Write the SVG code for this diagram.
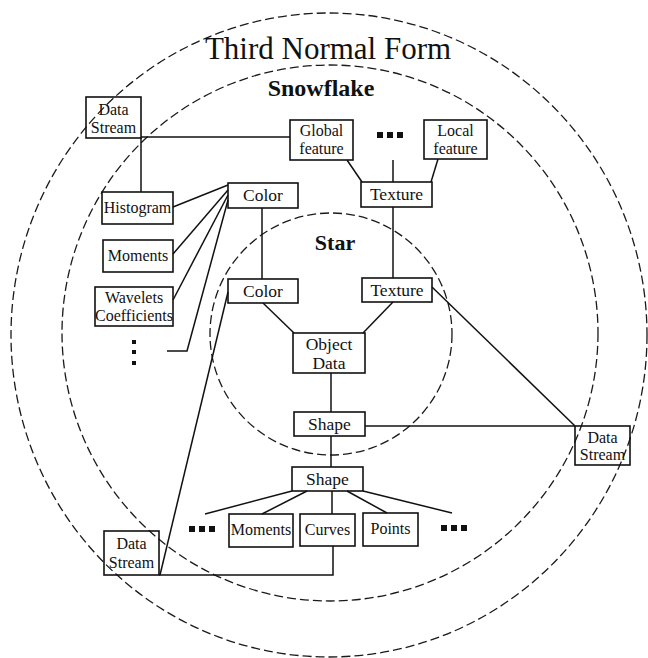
<svg xmlns="http://www.w3.org/2000/svg" width="648" height="658" viewBox="0 0 648 658">
<style>
.ring{fill:none;stroke:#1a1a1a;stroke-width:1.3;stroke-dasharray:9 4}
.box{fill:none;stroke:#111;stroke-width:1.6}
.lbl{font-family:"Liberation Serif","Times New Roman",serif;fill:#111;text-anchor:middle;font-size:16px}
.big{font-size:17.5px}
.title{font-family:"Liberation Serif","Times New Roman",serif;fill:#111;text-anchor:middle}
.ln{fill:none;stroke:#111;stroke-width:1.5}
.dot{fill:#111}
</style>
<rect width="648" height="658" fill="#fff"/>
<g id="rings">
<ellipse class="ring" cx="329" cy="335" rx="318" ry="322"/>
<circle class="ring" cx="330" cy="333" r="268"/>
<circle class="ring" cx="331" cy="334" r="121"/>
</g>
<g id="titles">
<text class="title" x="328" y="59" font-size="31">Third Normal Form</text>
<text class="title" x="321" y="96" font-size="24" font-weight="bold">Snowflake</text>
<text class="title" x="335" y="250" font-size="22" font-weight="bold">Star</text>
</g>
<g id="connectors">
<line class="ln" x1="141" y1="137" x2="290" y2="137"/>
<line class="ln" x1="141" y1="138" x2="141" y2="192"/>
<line class="ln" x1="347" y1="160" x2="362" y2="182"/>
<line class="ln" x1="393" y1="160" x2="393" y2="182"/>
<line class="ln" x1="438" y1="159" x2="431" y2="182"/>
<line class="ln" x1="173" y1="207" x2="228" y2="185"/>
<line class="ln" x1="173" y1="254" x2="228" y2="190"/>
<line class="ln" x1="173" y1="300" x2="228" y2="195"/>
<polyline class="ln" points="167,351 187,351 228,200"/>
<line class="ln" x1="262" y1="208" x2="262" y2="279"/>
<line class="ln" x1="393" y1="207" x2="393" y2="278"/>
<line class="ln" x1="263" y1="303" x2="294" y2="333"/>
<line class="ln" x1="393" y1="302" x2="363" y2="333"/>
<line class="ln" x1="331" y1="373" x2="331" y2="412"/>
<line class="ln" x1="331" y1="436" x2="331" y2="467"/>
<line class="ln" x1="365" y1="426" x2="575" y2="426"/>
<line class="ln" x1="432" y1="287" x2="575" y2="426"/>
<line class="ln" x1="292" y1="491" x2="205" y2="514"/>
<line class="ln" x1="307" y1="491" x2="262" y2="514"/>
<line class="ln" x1="332" y1="491" x2="332" y2="514"/>
<line class="ln" x1="347" y1="491" x2="387" y2="513"/>
<line class="ln" x1="363" y1="491" x2="452" y2="513"/>
<polyline class="ln" points="333,546 333,575 159,575"/>
<line class="ln" x1="228" y1="292" x2="160" y2="575"/>
</g>
<g id="ds_tl"><rect class="box" x="86" y="97" width="55" height="41"/><text class="lbl" font-size="15" x="113.5" y="115">Data</text><text class="lbl" font-size="15" x="113.5" y="133">Stream</text></g>
<g id="global"><rect class="box" x="290" y="120" width="63" height="40"/><text class="lbl" font-size="15.5" x="321.5" y="136">Global</text><text class="lbl" font-size="15.5" x="321.5" y="154">feature</text></g>
<g id="dots_top"><rect class="dot" x="377" y="132" width="6" height="6"/><rect class="dot" x="387" y="132" width="6" height="6"/><rect class="dot" x="397" y="132" width="6" height="6"/></g>
<g id="local"><rect class="box" x="424" y="120" width="63" height="39"/><text class="lbl" font-size="15.5" x="455.5" y="136">Local</text><text class="lbl" font-size="15.5" x="455.5" y="154">feature</text></g>
<g id="texture_sf"><rect class="box" x="361" y="182" width="71" height="25"/><text class="lbl big" x="396.5" y="200">Texture</text></g>
<g id="color_sf"><rect class="box" x="228" y="183" width="70" height="25"/><text class="lbl big" x="263" y="201">Color</text></g>
<g id="histogram"><rect class="box" x="102" y="192" width="71" height="32"/><text class="lbl" x="137.5" y="213">Histogram</text></g>
<g id="moments_sf"><rect class="box" x="103" y="240" width="70" height="32"/><text class="lbl" x="138" y="261">Moments</text></g>
<g id="wavelets"><rect class="box" x="95" y="287" width="78" height="39"/><text class="lbl" font-size="15.5" x="134" y="303">Wavelets</text><text class="lbl" font-size="15.5" x="134" y="321">Coefficients</text></g>
<g id="dots_left"><rect class="dot" x="132" y="340" width="4" height="4"/><rect class="dot" x="132" y="350" width="4" height="4"/><rect class="dot" x="132" y="361" width="4" height="4"/></g>
<g id="color_star"><rect class="box" x="228" y="279" width="70" height="24"/><text class="lbl big" x="263" y="297">Color</text></g>
<g id="texture_star"><rect class="box" x="362" y="278" width="70" height="24"/><text class="lbl big" x="397" y="296">Texture</text></g>
<g id="object_data"><rect class="box" x="293" y="333" width="72" height="40"/><text class="lbl big" x="329" y="350">Object</text><text class="lbl big" x="329" y="369">Data</text></g>
<g id="shape_star"><rect class="box" x="294" y="412" width="71" height="24"/><text class="lbl big" x="329.5" y="430">Shape</text></g>
<g id="ds_right"><rect class="box" x="575" y="426" width="55" height="39"/><text class="lbl" font-size="15" x="602.5" y="443">Data</text><text class="lbl" font-size="15" x="602.5" y="460">Stream</text></g>
<g id="shape_low"><rect class="box" x="292" y="467" width="71" height="24"/><text class="lbl big" x="327.5" y="485">Shape</text></g>
<g id="dots_l2"><rect class="dot" x="189" y="526" width="6" height="6"/><rect class="dot" x="199" y="526" width="6" height="6"/><rect class="dot" x="209" y="526" width="6" height="6"/></g>
<g id="moments_low"><rect class="box" x="229" y="514" width="64" height="33"/><text class="lbl" x="261" y="535">Moments</text></g>
<g id="curves"><rect class="box" x="300" y="514" width="55" height="32"/><text class="lbl" x="327.5" y="535">Curves</text></g>
<g id="points"><rect class="box" x="363" y="513" width="55" height="33"/><text class="lbl" x="390.5" y="534">Points</text></g>
<g id="dots_r2"><rect class="dot" x="441" y="525" width="6" height="6"/><rect class="dot" x="451" y="525" width="6" height="6"/><rect class="dot" x="461" y="525" width="6" height="6"/></g>
<g id="ds_bl"><rect class="box" x="104" y="531" width="55" height="44"/><text class="lbl" font-size="15" x="131.5" y="549">Data</text><text class="lbl" font-size="15" x="131.5" y="568">Stream</text></g>
</svg>
